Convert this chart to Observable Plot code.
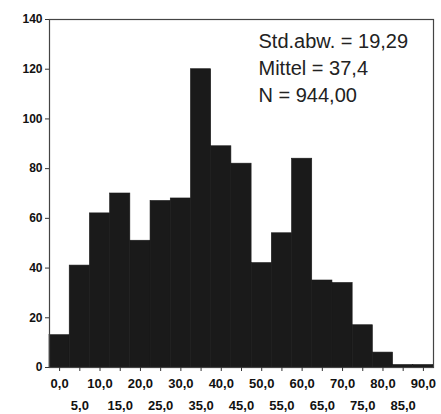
<!DOCTYPE html>
<html>
<head>
<meta charset="utf-8">
<script src="https://cdn.jsdelivr.net/npm/d3@7"></script>
<script src="https://cdn.jsdelivr.net/npm/@observablehq/plot@0.6"></script>
<style>
  html, body { margin: 0; padding: 0; background: #fff; }
  #chart svg { display: block; }
</style>
</head>
<body>
<div id="chart"></div>
<script>
// Histogram bins (centres, width 5) and counts
const binCenters = [0, 5, 10, 15, 20, 25, 30, 35, 40, 45, 50, 55, 60, 65, 70, 75, 80, 85, 90];
const counts     = [13, 41, 62, 70, 51, 67, 68, 120, 89, 82, 42, 54, 84, 35, 34, 17, 6, 1, 1];
const binWidth = 5;

// Axis tick labels
const xTicksRow1 = [0, 10, 20, 30, 40, 50, 60, 70, 80, 90];
const xTicksRow2 = [5, 15, 25, 35, 45, 55, 65, 75, 85];
const yTicks = [0, 20, 40, 60, 80, 100, 120, 140];

// Summary statistics text
const statLines = ["Std.abw. = 19,29", "Mittel = 37,4", "N = 944,00"];

const bins = binCenters.map((c, i) => ({x1: c - binWidth / 2, x2: c + binWidth / 2, count: counts[i]}));
const fmt = d => d3.format(".1f")(d).replace(".", ",");

const chart = Plot.plot({
  width: 441,
  height: 414,
  marginLeft: 49,
  marginRight: 8,
  marginTop: 19,
  marginBottom: 47,
  style: {fontFamily: "'Liberation Sans', Arial, sans-serif", color: "#111", background: "#fff"},
  x: {domain: [-2.5, 92.5]},
  y: {domain: [0, 140]},
  marks: [
    Plot.rectY(bins, {x1: "x1", x2: "x2", y: "count", fill: "#1a1a1a", stroke: "#1a1a1a", strokeWidth: 0.6, inset: 0}),
    Plot.frame({stroke: "#444", strokeWidth: 1.2}),
    Plot.axisY({ticks: yTicks, tickSize: 4, tickPadding: 3, tickFormat: d => String(d),
      fontSize: 12, fontWeight: "bold", label: null, stroke: "#333"}),
    Plot.axisX({ticks: xTicksRow1, tickSize: 4, tickPadding: 7, tickFormat: fmt,
      fontSize: 13, fontWeight: "bold", label: null, stroke: "#333"}),
    Plot.axisX({ticks: xTicksRow2, tickSize: 4, tickPadding: 29, tickFormat: fmt,
      fontSize: 13, fontWeight: "bold", label: null, stroke: "#333"}),
    Plot.text([statLines.join("\n")], {
      frameAnchor: "top-left", textAnchor: "start", lineAnchor: "top",
      dx: 209, dy: 10, fontSize: 20, lineHeight: 1.33, fill: "#222",
      fontWeight: "normal"
    })
  ]
});
document.getElementById("chart").appendChild(chart);
</script>
</body>
</html>
